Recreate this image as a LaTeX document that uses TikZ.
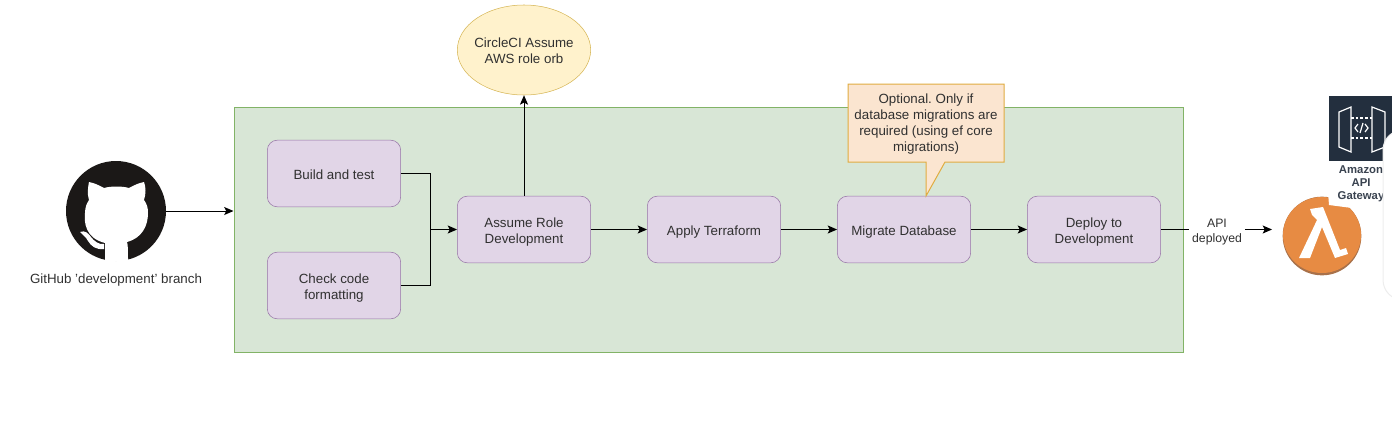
\documentclass[tikz,border=0pt]{standalone}
\usepackage{fontspec}
\setmainfont{Liberation Sans}
\usepackage{tikz}
\usetikzlibrary{shapes.geometric,arrows.meta}
\frenchspacing
\newcommand{\topstrut}{\rule{0pt}{10.4pt}}
\newcommand{\lowstrut}{\rule[-2.1pt]{0pt}{2.1pt}}
\newcommand{\tallline}{\rule{0pt}{11pt}}
\tikzset{
  stepbox/.style={draw=boxline,fill=boxfill,rounded corners=7.5pt,minimum width=100pt,minimum height=50pt,inner sep=0pt,align=center,text=labeltext,execute at begin node=\topstrut,execute at end node=\lowstrut},
  link/.style={draw=black,line width=.75pt,-{Stealth[length=7pt,width=6pt,inset=1.5pt]}},
  plainlink/.style={draw=black,line width=.75pt},
  labelnode/.style={text=labeltext,align=center,inner sep=0pt,execute at begin node=\topstrut,execute at end node=\lowstrut}
}
\definecolor{boxfill}{HTML}{E1D5E7}
\definecolor{boxline}{HTML}{9673A6}
\definecolor{stagefill}{HTML}{D8E6D6}
\definecolor{stageline}{HTML}{82B366}
\definecolor{orbfill}{HTML}{FFF2CC}
\definecolor{orbline}{HTML}{D6B656}
\definecolor{notefill}{HTML}{FBE5D0}
\definecolor{noteline}{HTML}{E0AC40}
\definecolor{labeltext}{HTML}{303030}
\definecolor{logoblack}{HTML}{1B1817}
\definecolor{gatewaynavy}{HTML}{232F3E}
\definecolor{gatewaytext}{HTML}{3A4350}
\definecolor{panelline}{HTML}{EDEDED}
\definecolor{lambdaorange}{HTML}{E78B43}
\definecolor{lambdabrown}{HTML}{A8714A}
\begin{document}
\begin{tikzpicture}[x=.75pt,y=-.75pt,font=\fontsize{10pt}{12pt}\selectfont]
    \useasboundingbox (0,0) rectangle (1392,422);

    \node[draw=stageline,fill=stagefill,line width=.75pt,minimum width=711.75pt,minimum height=183.75pt,inner sep=0pt] (stage) at (708.5,229.5) {};

    \node[stepbox] (build) at (334,173.5) {Build and test};
    \node[stepbox] (format) at (334,285.5) {\tallline Check code\\formatting};
    \node[stepbox] (assume) at (524,229.5) {\tallline Assume Role\\Development};
    \node[stepbox] (terraform) at (714,229.5) {Apply Terraform};
    \node[stepbox] (migrate) at (904,229.5) {Migrate Database};
    \node[stepbox] (deploy) at (1094,229.5) {\tallline Deploy to\\Development};

    \node[draw=orbline,fill=orbfill,ellipse,minimum width=100pt,minimum height=67.5pt,inner sep=0pt] (orb) at (524,50) {};
    \node[labelnode] (orblabel) at (orb) {\tallline CircleCI Assume\\AWS role orb};

    \draw[draw=noteline,fill=notefill,line width=.75pt] (848,84) -- (1004,84) -- (1004,162) -- (945,162) -- (926,196) -- (926,162) -- (848,162) -- cycle;
    \node[labelnode] (note) at (926,124.5) {Optional. Only if\\database migrations are\\required (using ef core\\migrations)};

    \draw[link] (build.east) -- (430,173.5) |- (assume.west);
    \draw[plainlink] (format.east) -- (430,285.5) -- (430,229.5);
    \draw[link] (assume) -- (terraform);
    \draw[link] (terraform) -- (migrate);
    \draw[link] (migrate) -- (deploy);
    \draw[link] (assume.north) -- (orb.south);

    % github mark
    \node[circle,fill=logoblack,minimum size=75pt,inner sep=0pt] (github) at (116,211) {};
    \fill[white] (105,261) -- (105,243) .. controls (85,238) and (84,222) .. (85,213)
      .. controls (85,207) and (87,203) .. (89,200) .. controls (87,194) and (88,187) .. (89,182)
      .. controls (95,183) and (100,186) .. (104,188) .. controls (111,186) and (122,186) .. (129,188)
      .. controls (133,186) and (138,183) .. (144,182) .. controls (146,187) and (146,194) .. (144,200)
      .. controls (147,204) and (148,208) .. (148,213) .. controls (148,226) and (142,238) .. (127,242)
      .. controls (128,245) and (128,250) .. (128,261) -- cycle;
    \fill[white] (80,232) .. controls (85,230) and (88,233) .. (91,237) .. controls (94,241) and (99,245) .. (104,244) -- (104,249)
      .. controls (96,250) and (91,246) .. (88,241) .. controls (86,237) and (83,235) .. (80,232) -- cycle;
    \node[labelnode] (githublabel) at (116,278) {GitHub 'development' branch};
    \draw[link] (github.east) -- (stage.west |- github.east);

    % lambda
    \node[circle,fill=lambdabrown,minimum size=59pt,inner sep=0pt] (lambda) at (1322,236) {};
    \fill[lambdaorange] (1322,235) ellipse (39 and 38);
    \fill[white] (1328,192) -- (1329,205) -- (1352,208) -- (1352,192) -- cycle;
    \fill[white] (1310,209) -- (1323,207) -- (1340,250) -- (1346,248) -- (1348,254) -- (1335,258) -- (1322,227) -- (1310,258) -- (1299,258) -- (1317,220) -- (1312,215) -- cycle;

    \node[labelnode,fill=white,font=\fontsize{9.2pt}{11.3pt}\selectfont,inner xsep=2pt] (api) at (1217,229.5) {\tallline API\\deployed};
    \coordinate (lambdain) at (1272,229.5);
    \draw[plainlink] (deploy.east) -- (api.west);
    \draw[link] (api.east) -- (lambdain);

    % api gateway
    \begin{scope}
      \clip (0,0) rectangle (1392,422);
      \fill[gatewaynavy] (1329,96) rectangle (1400,161);
      \draw[white,line width=.9pt] (1339,112) -- (1351,107) -- (1351,152) -- (1339,147) -- cycle;
      \draw[white,line width=.9pt] (1372,107) -- (1385,112) -- (1385,147) -- (1372,152) -- cycle;
      \draw[white,line width=.9pt,dash pattern=on 2pt off 1.5pt] (1351,118) -- (1372,118);
      \draw[white,line width=.9pt,dash pattern=on 2pt off 1.5pt] (1351,138) -- (1372,138);
      \draw[white,line width=.9pt] (1358,124) -- (1355,128) -- (1358,132);
      \draw[white,line width=.9pt] (1365,124) -- (1368,128) -- (1365,132);
      \draw[white,line width=.9pt] (1363,123) -- (1360,133);
      \node[labelnode,font=\bfseries\fontsize{8.5pt}{10pt}\selectfont,text=gatewaytext] (gateway) at (1361,184) {Amazon\\API\\Gateway};
      \fill[white,draw=panelline,line width=.75pt,rounded corners=15pt] (1383,130) rectangle (1420,300);
    \end{scope}
\end{tikzpicture}
\end{document}
